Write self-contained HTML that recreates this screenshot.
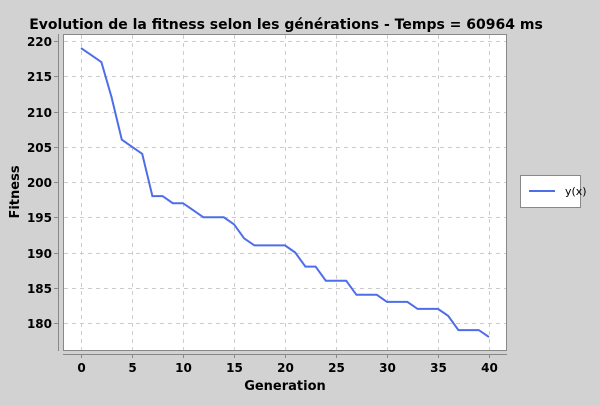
<!DOCTYPE html>
<html><head><meta charset="utf-8"><style>
body{margin:0;background:#d2d2d2;}
svg text{font-family:"DejaVu Sans","Liberation Sans",sans-serif;}
</style></head><body>
<svg id="c" width="600" height="400">
<rect width="600" height="400" fill="#d2d2d2"/>
<text x="286" y="29" text-anchor="middle" font-size="14" font-weight="bold" fill="#000">Evolution de la fitness selon les générations - Temps = 60964 ms</text>
<rect x="63.5" y="34.5" width="443" height="316" fill="#fff" stroke="#888"/>
<line x1="58.5" y1="34" x2="58.5" y2="351" stroke="#888"/>
<line x1="63" y1="354.5" x2="507" y2="354.5" stroke="#888"/>
<g id="grid"></g><g id="ticks"></g>
<text x="285" y="390" text-anchor="middle" font-size="13" font-weight="bold">Generation</text>
<text transform="translate(19,192) rotate(-90)" text-anchor="middle" font-size="13" font-weight="bold">Fitness</text>
<path id="line" fill="none" stroke="#4d6ee8" stroke-width="2"/>
<g>
<rect x="520.5" y="175.5" width="60" height="32" fill="#fff" stroke="#888"/>
<line x1="529" y1="191" x2="555" y2="191" stroke="#4d6ee8" stroke-width="2"/>
<text x="565" y="195" font-size="11">y(x)</text>
</g>
</svg>
<script>
const generations=[0,1,2,3,4,5,6,7,8,9,10,11,12,13,14,15,16,17,18,19,20,21,22,23,24,25,26,27,28,29,30,31,32,33,34,35,36,37,38,39,40];
const fitness=[219,218,217,212,206,205,204,198,198,197,197,196,195,195,195,194,192,191,191,191,191,190,188,188,186,186,186,184,184,184,183,183,183,182,182,182,181,179,179,179,178];
const xTicks=[0,5,10,15,20,25,30,35,40];
const yTicks=[180,185,190,195,200,205,210,215,220];
const sx=v=>81+(v-0)*(489-81)/40;
const sy=v=>323-(v-180)*(323-41)/40;
const NS='http://www.w3.org/2000/svg';
const grid=document.getElementById('grid'),ticks=document.getElementById('ticks');
function mk(tag,attrs,parent){const e=document.createElementNS(NS,tag);for(const k in attrs)e.setAttribute(k,attrs[k]);parent.appendChild(e);return e;}
xTicks.forEach(t=>{const x=Math.round(sx(t))+0.5;
const g=mk('line',{x1:x,y1:35,x2:x,y2:350,stroke:'#ccc','stroke-dasharray':'4,4'},grid);


mk('line',{x1:x,y1:354,x2:x,y2:358,stroke:'#888'},ticks);
const tx=mk('text',{x:x,y:372,'text-anchor':'middle','font-size':'12','font-weight':'bold'},ticks);tx.textContent=t;

});
yTicks.forEach(t=>{const y=Math.round(sy(t))+0.5;
const g=mk('line',{x1:64,y1:y,x2:506,y2:y,stroke:'#ccc','stroke-dasharray':'4,4'},grid);


mk('line',{x1:54,y1:y,x2:58,y2:y,stroke:'#888'},ticks);
const tx=mk('text',{x:52,y:y+4.5,'text-anchor':'end','font-size':'12','font-weight':'bold'},ticks);tx.textContent=t;

});
document.getElementById('line').setAttribute('d',generations.map((g,i)=>(i?'L':'M')+sx(g).toFixed(1)+','+sy(fitness[i]).toFixed(1)).join(''));
</script>
</body></html>
